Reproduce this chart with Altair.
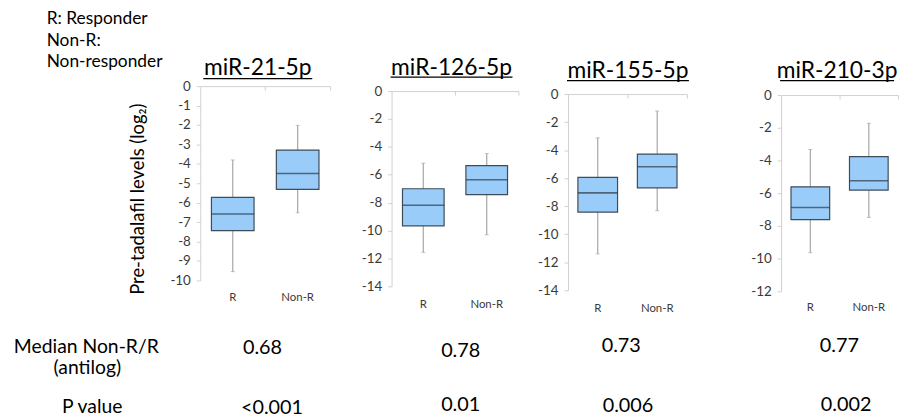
import altair as alt
import pandas as pd

# ---------------- data ----------------
genes = ["miR-21-5p", "miR-126-5p", "miR-155-5p", "miR-210-3p"]
groups = ["R", "Non-R"]

# five-number summaries (log2), per gene
r_low = [-9.55, -11.56, -11.40, -9.64]
r_q1 = [-7.44, -9.66, -8.42, -7.62]
r_median = [-6.58, -8.19, -7.05, -6.88]
r_q3 = [-5.73, -7.00, -5.94, -5.61]
r_high = [-3.80, -5.17, -3.12, -3.33]

n_low = [-6.52, -10.30, -8.32, -7.48]
n_q1 = [-5.31, -7.43, -6.69, -5.81]
n_median = [-4.50, -6.36, -5.18, -5.24]
n_q3 = [-3.29, -5.34, -4.28, -3.77]
n_high = [-2.02, -4.48, -1.21, -1.73]

axis_min = [-10, -14, -14, -12]
axis_step = [1, 2, 2, 2]

median_ratio = ["0.68", "0.78", "0.73", "0.77"]
p_value = ["<0.001", "0.01", "0.006", "0.002"]

legend_lines = ["R: Responder", "Non-R:", "Non-responder"]
y_title = "Pre-tadalafil levels (log\u2082)"
row_labels = ["Median Non-R/R", "(antilog)", "P value"]

# ---------------- layout (page pixels) ----------------
OX, OY = 8, 8
W, H = 904, 411
FONT = "Lato"

PANEL_X = [(202, 333), (395, 523), (573, 693), (788, 906)]
PANEL_Y = [(85, 281), (90, 287), (93, 291), (94, 292)]
LABEL_Y = [298.5, 305.5, 309, 308.5]
TITLE_POS = [(260, 74), (455.5, 73.3), (633.5, 76.7), (844.5, 76.7)]
UNDERLINE = [(205, 315, 77.5), (394, 517, 76), (572, 695, 79.5), (787, 902, 79.5)]
RATIO_POS = [(245, 355), (445, 358), (607, 353), (827, 353)]
P_POS = [(243, 416), (445, 413), (608, 414), (828, 413)]

BOX_FILL = "#9ACCFA"
BOX_STROKE = "#3E4C57"
MED_COLOR = "#2E3B44"
WHISKER = "#A6A6A6"
AXIS_GRAY = "#D0D0D0"
LABEL_GRAY = "#3A3A3A"


def panel(i):
    df = pd.DataFrame({
        "group": groups,
        "low": [r_low[i], n_low[i]],
        "q1": [r_q1[i], n_q1[i]],
        "median": [r_median[i], n_median[i]],
        "q3": [r_q3[i], n_q3[i]],
        "high": [r_high[i], n_high[i]],
    })
    x0, x1 = PANEL_X[i]
    yt, yb = PANEL_Y[i]
    bw = round((x1 - x0) / 2 * 0.66)
    xs = alt.Scale(domain=groups, range=[x0 - OX, x1 - OX], paddingInner=0, paddingOuter=0)
    ys = alt.Scale(domain=[axis_min[i], 0], range=[yb - OY, yt - OY], nice=False, zero=False)
    yvals = list(range(0, axis_min[i] - 1, -axis_step[i]))
    yaxis = alt.Axis(orient="left", offset=-(x0 - OX), values=yvals, grid=False, title=None,
                     domainColor=AXIS_GRAY, tickColor=AXIS_GRAY, tickSize=4, labelPadding=6,
                     labelFont=FONT, labelFontSize=13.5, labelColor=LABEL_GRAY,
                     labelExpr="toString(datum.value)")
    label_axis = alt.Axis(orient="bottom", offset=(LABEL_Y[i] - OY) - H, domain=False, ticks=False,
                          tickSize=0, labelPadding=0, labelBaseline="middle", labelAngle=0,
                          labelFont=FONT, labelFontSize=11.5, labelColor=LABEL_GRAY, title=None)
    line_axis = alt.Axis(orient="bottom", offset=(yt - OY) - H, labels=False, domain=True, ticks=True,
                         bandPosition=1, tickSize=4, domainColor=AXIS_GRAY, tickColor=AXIS_GRAY,
                         title=None, grid=False)
    base = alt.Chart(df)

    def xa(axis):
        return alt.X("group:N", scale=xs, sort=groups, axis=axis, title=None)

    def ya(field):
        return alt.Y(field, scale=ys, axis=yaxis, title=None)

    whisk = base.mark_rule(color=WHISKER, strokeWidth=1.2).encode(
        x=xa(label_axis), y=ya("low:Q"), y2="high:Q")
    cap_lo = base.mark_tick(color=WHISKER, size=4, thickness=1).encode(
        x=xa(label_axis), y=ya("low:Q"))
    cap_hi = base.mark_tick(color=WHISKER, size=4, thickness=1).encode(
        x=xa(label_axis), y=ya("high:Q"))
    box = base.mark_bar(size=bw, fill=BOX_FILL, stroke=BOX_STROKE, strokeWidth=1.2).encode(
        x=xa(line_axis), y=ya("q1:Q"), y2="q3:Q")
    med = base.mark_tick(size=bw, thickness=1.6, color=MED_COLOR).encode(
        x=xa(line_axis), y=ya("median:Q"))
    a = alt.layer(whisk, cap_lo, cap_hi)
    b = alt.layer(box, med)
    return alt.layer(a, b).resolve_scale(x="independent")


def text(t, x, y, size, align="left", angle=0, baseline="alphabetic", color="#000000"):
    return alt.Chart(alt.Data(values=[{}])).mark_text(
        text=t, align=align, baseline=baseline, fontSize=size, font=FONT, color=color, angle=angle
    ).encode(x=alt.value(x - OX), y=alt.value(y - OY))


def hline(xa_, xb_, y):
    return alt.Chart(alt.Data(values=[{}])).mark_rule(color="#000000", strokeWidth=1.3).encode(
        x=alt.value(xa_ - OX), x2=alt.value(xb_ - OX), y=alt.value(y - OY)
    )


layers = [panel(i) for i in range(4)]

for i in range(4):
    tx, ty = TITLE_POS[i]
    layers.append(text(genes[i], tx, ty, 23, align="center"))
    xa_, xb_, uy = UNDERLINE[i]
    layers.append(hline(xa_, xb_, uy))
    rx, ry = RATIO_POS[i]
    layers.append(text(median_ratio[i], rx, ry, 20))
    px, py = P_POS[i]
    layers.append(text(p_value[i], px, py, 20))

for line, yy in zip(legend_lines, [22, 44, 66]):
    layers.append(text(line, 47, yy, 17.5))

layers.append(text(y_title, 139, 199, 18.5, align="center", angle=270, baseline="middle"))
layers.append(text(row_labels[0], 87, 354, 19.5, align="center"))
layers.append(text(row_labels[1], 88, 375.5, 19.5, align="center"))
layers.append(text(row_labels[2], 93, 415, 19.5, align="center"))

chart = alt.layer(*layers).resolve_scale(x="independent", y="independent").properties(
    width=W, height=H, padding=0, autosize=alt.AutoSizeParams(type="none")
).configure_view(stroke=None)

chart.save("out.html", embed_options={"renderer": "svg", "actions": False})
